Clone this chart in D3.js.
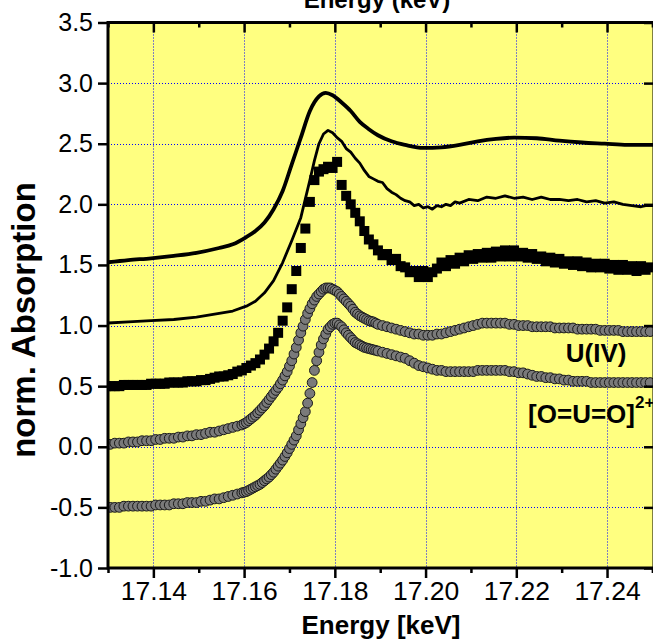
<!DOCTYPE html>
<html>
<head>
<meta charset="utf-8">
<script src="https://cdn.jsdelivr.net/npm/d3@7.9.0/dist/d3.min.js"></script>
<style>
  html, body { margin: 0; padding: 0; background: #fff; }
  svg { display: block; font-family: Arial, 'Liberation Sans', sans-serif; }
</style>
</head>
<body>
<svg id="chart" width="653" height="643"></svg>
<script>
// energies in eV, values are normalised absorption
const xMajorTicks = [17140, 17160, 17180, 17200, 17220, 17240];
const xMinorTicks = [17130, 17150, 17170, 17190, 17210, 17230, 17250];
const yTicks = [-1.0, -0.5, 0.0, 0.5, 1.0, 1.5, 2.0, 2.5, 3.0, 3.5];
const yGrid = [-0.5, 0.0, 0.5, 1.0, 1.5, 2.0, 2.5, 3.0];

// top solid curve
const line1Energy = [17129.5, 17134.5, 17139.5, 17144.5, 17149.5, 17154.5, 17157.5, 17160.5, 17162.5, 17164.5,
  17166.5, 17168.5, 17170.5, 17172.5, 17174.5, 17176.5, 17178, 17179.5, 17181.5, 17183.5,
  17185.5, 17187.5, 17189.5, 17192.5, 17195.5, 17199.5, 17203.5, 17207.5, 17211.5, 17215.5,
  17219.5, 17224.5, 17229.5, 17234.5, 17239.5, 17244.5, 17249.5, 17250.5];
const line1Value = [1.52, 1.54, 1.555, 1.575, 1.60, 1.64, 1.67, 1.73, 1.78, 1.85,
  1.96, 2.11, 2.33, 2.55, 2.77, 2.89, 2.92, 2.90, 2.84, 2.77,
  2.68, 2.62, 2.57, 2.52, 2.49, 2.465, 2.47, 2.49, 2.52, 2.54,
  2.55, 2.545, 2.525, 2.51, 2.50, 2.49, 2.49, 2.49];

// second solid (noisy) curve
const line2Energy = [17129.5, 17134.5, 17139.5, 17144.5, 17149.5, 17154.5, 17157.5, 17160.5, 17162.5, 17164.5,
  17166.5, 17168.5, 17170.5, 17172.5, 17174.5, 17175.5, 17176.5, 17177.5, 17178.5, 17179.5,
  17180.5, 17181.5, 17182.5, 17183.5, 17184.5, 17185.5, 17186.5, 17187.5, 17188.5, 17189.5,
  17190.5, 17191.5, 17192.5, 17193.5, 17194.5, 17195.5, 17196.5, 17197.5, 17198.5, 17199.5,
  17200.5, 17201.5, 17202.5, 17203.5, 17204.5, 17205.5, 17206.5, 17207.5,
  17209.5, 17211.5, 17213.5, 17215.5, 17217.5, 17219.5, 17221.5, 17223.5, 17225.5, 17227.5,
  17229.5, 17231.5, 17233.5, 17235.5, 17237.5, 17239.5, 17241.5, 17243.5, 17245.5, 17247.5,
  17248.5, 17249.5, 17250.5];
const line2Value = [1.02, 1.03, 1.04, 1.05, 1.07, 1.10, 1.12, 1.16, 1.20, 1.27,
  1.37, 1.52, 1.70, 1.89, 2.20, 2.36, 2.50, 2.58, 2.61, 2.59,
  2.55, 2.52, 2.46, 2.43, 2.38, 2.34, 2.28, 2.23, 2.21, 2.19,
  2.18, 2.13, 2.10, 2.08, 2.05, 2.03, 2.02, 1.99, 2.00, 1.97,
  1.98, 1.96, 1.99, 1.98, 2.00, 1.99, 2.02, 2.01,
  2.04, 2.03, 2.06, 2.05, 2.07, 2.05, 2.06, 2.04, 2.06, 2.04,
  2.04, 2.03, 2.04, 2.02, 2.03, 2.01, 2.02, 2.00, 1.99, 1.98,
  1.99, 1.99, 1.99];

// black squares
const squareEnergy = [17129.5, 17130.5, 17131.5, 17132.5, 17133.5, 17134.5, 17135.5, 17136.5, 17137.5, 17138.5,
  17139.5, 17140.5, 17141.5, 17142.5, 17143.5, 17144.5, 17145.5, 17146.5, 17147.5, 17148.5,
  17149.5, 17150.5, 17151.5, 17152.5, 17153.5, 17154.5, 17155.5, 17156.5, 17157.5, 17158.5,
  17159.5, 17160.5, 17161.5, 17162.5, 17163.5, 17164.5, 17165.5, 17166.5, 17167.5, 17168.5,
  17169.5, 17170.5, 17171.5, 17172.5, 17173.5, 17174.5, 17175.5, 17176.5, 17177.5, 17178.5,
  17179.5, 17180.5, 17181.5, 17182.5, 17183.5, 17184.5, 17185.5, 17186.5, 17187.5, 17188.5,
  17189.5, 17190.5, 17191.5, 17192.5, 17193.5, 17194.5, 17195.5, 17196.5, 17197.5, 17198.5,
  17199.5, 17200.5, 17201.5, 17202.5, 17203.5, 17204.5, 17205.5, 17206.5, 17207.5, 17208.5,
  17209.5, 17210.5, 17211.5, 17212.5, 17213.5, 17214.5, 17215.5, 17216.5, 17217.5, 17218.5,
  17219.5, 17220.5, 17221.5, 17222.5, 17223.5, 17224.5, 17225.5, 17226.5, 17227.5, 17228.5,
  17229.5, 17230.5, 17231.5, 17232.5, 17233.5, 17234.5, 17235.5, 17236.5, 17237.5, 17238.5,
  17239.5, 17240.5, 17241.5, 17242.5, 17243.5, 17244.5, 17245.5, 17246.5, 17247.5, 17248.5,
  17249.5];
const squareValue = [0.50, 0.50, 0.50, 0.50, 0.51, 0.51, 0.51, 0.51, 0.51, 0.51,
  0.52, 0.52, 0.52, 0.52, 0.53, 0.53, 0.53, 0.53, 0.54, 0.54,
  0.54, 0.55, 0.55, 0.56, 0.57, 0.58, 0.58, 0.59, 0.60, 0.62,
  0.63, 0.65, 0.67, 0.69, 0.72, 0.76, 0.81, 0.87, 0.94, 1.04,
  1.15, 1.30, 1.45, 1.64, 1.80, 2.02, 2.20, 2.27, 2.29, 2.31,
  2.30, 2.35, 2.16, 2.07, 2.00, 1.93, 1.86, 1.78, 1.71, 1.67,
  1.62, 1.58, 1.59, 1.54, 1.55, 1.49, 1.48, 1.44, 1.45, 1.40,
  1.45, 1.40, 1.44, 1.47, 1.52, 1.49, 1.54, 1.51, 1.56, 1.53,
  1.58, 1.55, 1.59, 1.56, 1.60, 1.56, 1.61, 1.57, 1.62, 1.57,
  1.62, 1.57, 1.60, 1.56, 1.59, 1.55, 1.57, 1.53, 1.56, 1.52,
  1.55, 1.51, 1.53, 1.50, 1.53, 1.49, 1.52, 1.48, 1.51, 1.48,
  1.51, 1.47, 1.50, 1.46, 1.50, 1.46, 1.49, 1.45, 1.49, 1.46,
  1.48];

// grey circles, shared energy grid (finer over the edge)
const circleEnergy = [17129.5, 17130.5, 17131.5, 17132.5, 17133.5, 17134.5, 17135.5, 17136.5, 17137.5, 17138.5,
  17139.5, 17140.5, 17141.5, 17142.5, 17143.5, 17144.5, 17145.5, 17146.5, 17147.5, 17148.5,
  17149.5, 17150.5, 17151.5, 17152.5, 17153.5, 17154.5, 17155.5, 17156.5, 17157.5, 17158.5,
  17159.5,
  17160, 17160.5, 17161, 17161.5, 17162, 17162.5, 17163, 17163.5, 17164, 17164.5,
  17165, 17165.5, 17166, 17166.5, 17167, 17167.5, 17168, 17168.5, 17169, 17169.5,
  17170, 17170.5, 17171, 17171.5, 17172, 17172.5, 17173, 17173.5, 17174, 17174.5,
  17175, 17175.5, 17176, 17176.5, 17177, 17177.5, 17178, 17178.5, 17179, 17179.5,
  17180, 17180.5, 17181, 17181.5, 17182, 17182.5, 17183, 17183.5, 17184, 17184.5,
  17185, 17185.5, 17186, 17186.5, 17187, 17187.5, 17188, 17188.5, 17189, 17189.5,
  17190.5, 17191.5, 17192.5, 17193.5, 17194.5, 17195.5, 17196.5, 17197.5, 17198.5, 17199.5,
  17200.5, 17201.5, 17202.5, 17203.5, 17204.5, 17205.5, 17206.5, 17207.5, 17208.5, 17209.5,
  17210.5, 17211.5, 17212.5, 17213.5, 17214.5, 17215.5, 17216.5, 17217.5, 17218.5, 17219.5,
  17220.5, 17221.5, 17222.5, 17223.5, 17224.5, 17225.5, 17226.5, 17227.5, 17228.5, 17229.5,
  17230.5, 17231.5, 17232.5, 17233.5, 17234.5, 17235.5, 17236.5, 17237.5, 17238.5, 17239.5,
  17240.5, 17241.5, 17242.5, 17243.5, 17244.5, 17245.5, 17246.5, 17247.5, 17248.5, 17249.5];

const uIVValue = [0.02, 0.02, 0.03, 0.03, 0.03, 0.04, 0.04, 0.04, 0.05, 0.05,
  0.05, 0.06, 0.06, 0.07, 0.07, 0.07, 0.08, 0.08, 0.09, 0.09,
  0.10, 0.10, 0.11, 0.12, 0.12, 0.13, 0.14, 0.15, 0.16, 0.17,
  0.18,
  0.19, 0.20, 0.215, 0.23, 0.245, 0.26, 0.28, 0.30, 0.32, 0.34,
  0.365, 0.39, 0.415, 0.44, 0.465, 0.49, 0.52, 0.55, 0.585, 0.62,
  0.665, 0.71, 0.765, 0.82, 0.88, 0.94, 0.995, 1.05, 1.10, 1.14,
  1.18, 1.21, 1.24, 1.26, 1.28, 1.30, 1.31, 1.31, 1.31, 1.30,
  1.29, 1.28, 1.26, 1.24, 1.22, 1.20, 1.18, 1.16, 1.135, 1.11,
  1.095, 1.08, 1.07, 1.06, 1.05, 1.04, 1.035, 1.03, 1.02, 1.01,
  1.00, 0.99, 0.98, 0.97, 0.96, 0.95, 0.94, 0.93, 0.93, 0.92,
  0.92, 0.92, 0.93, 0.93, 0.94, 0.95, 0.96, 0.97, 0.98, 0.99,
  1.00, 1.01, 1.02, 1.02, 1.02, 1.02, 1.02, 1.02, 1.01, 1.01,
  1.00, 1.00, 1.00, 0.99, 0.99, 0.99, 0.99, 0.99, 0.98, 0.98,
  0.98, 0.98, 0.98, 0.97, 0.97, 0.97, 0.97, 0.97, 0.96, 0.96,
  0.96, 0.96, 0.96, 0.95, 0.95, 0.95, 0.95, 0.95, 0.95, 0.95];

const uranylValue = [-0.50, -0.50, -0.50, -0.50, -0.49, -0.49, -0.49, -0.49, -0.49, -0.49,
  -0.49, -0.48, -0.48, -0.48, -0.48, -0.47, -0.47, -0.47, -0.46, -0.46,
  -0.46, -0.45, -0.45, -0.44, -0.43, -0.43, -0.42, -0.41, -0.40, -0.39,
  -0.38,
  -0.375, -0.37, -0.36, -0.35, -0.34, -0.33, -0.32, -0.31, -0.295, -0.28,
  -0.265, -0.25, -0.23, -0.21, -0.185, -0.16, -0.135, -0.11, -0.08, -0.05,
  -0.015, 0.02, 0.055, 0.09, 0.14, 0.19, 0.24, 0.29, 0.36, 0.44,
  0.53, 0.63, 0.71, 0.78, 0.84, 0.89, 0.93, 0.97, 0.99, 1.01,
  1.02, 1.02, 1.005, 0.99, 0.965, 0.94, 0.92, 0.90, 0.88, 0.86,
  0.85, 0.84, 0.83, 0.82, 0.815, 0.81, 0.805, 0.80, 0.795, 0.79,
  0.78, 0.77, 0.76, 0.75, 0.74, 0.73, 0.71, 0.69, 0.67, 0.66,
  0.65, 0.64, 0.63, 0.63, 0.62, 0.62, 0.62, 0.62, 0.62, 0.62,
  0.62, 0.63, 0.63, 0.63, 0.63, 0.63, 0.63, 0.63, 0.62, 0.62,
  0.61, 0.61, 0.60, 0.59, 0.58, 0.58, 0.57, 0.57, 0.56, 0.56,
  0.55, 0.55, 0.54, 0.54, 0.54, 0.54, 0.53, 0.53, 0.53, 0.53,
  0.53, 0.53, 0.53, 0.53, 0.53, 0.53, 0.53, 0.53, 0.53, 0.53];

const annotations = [
  { energy: 17230.9, value: 0.70, text: 'U(IV)', sup: '' },
  { energy: 17222.6, value: 0.20, text: '[O=U=O]', sup: '2+' },
];

const plot = { left: 108, right: 652.4, top: 22.5, bottom: 568 };
const frameRight = 654;

const svg = d3.select('#chart');

const xScale = d3.scaleLinear().domain([17130, 17250]).range([plot.left, plot.right]);
const yScale = d3.scaleLinear().domain([-1.0, 3.5]).range([plot.bottom, plot.top]);

function zip(xs, ys) {
  return xs.map((x, i) => ({ x, y: ys[i] }));
}

function renderBackground() {
  svg.append('rect')
    .attr('x', plot.left).attr('y', plot.top)
    .attr('width', frameRight - plot.left).attr('height', plot.bottom - plot.top)
    .attr('fill', '#ffff80');

  svg.append('defs').append('clipPath').attr('id', 'plot-clip')
    .append('rect')
    .attr('x', plot.left).attr('y', plot.top)
    .attr('width', frameRight - plot.left).attr('height', plot.bottom - plot.top);
}

function renderGrid() {
  const g = svg.append('g').attr('class', 'grid')
    .attr('stroke', '#0000ff').attr('stroke-width', 1).attr('stroke-dasharray', '1,2');
  g.selectAll('line.gx').data(xMajorTicks).join('line')
    .attr('class', 'gx')
    .attr('x1', (d) => Math.round(xScale(d)) + 0.5).attr('x2', (d) => Math.round(xScale(d)) + 0.5)
    .attr('y1', plot.top).attr('y2', plot.bottom);
  g.selectAll('line.gy').data(yGrid).join('line')
    .attr('class', 'gy')
    .attr('y1', (d) => Math.round(yScale(d)) + 0.5).attr('y2', (d) => Math.round(yScale(d)) + 0.5)
    .attr('x1', plot.left).attr('x2', frameRight);
}

function renderSeries() {
  const g = svg.append('g').attr('clip-path', 'url(#plot-clip)');

  const line = d3.line().x((d) => xScale(d.x)).y((d) => yScale(d.y));

  g.append('path')
    .datum(zip(line1Energy, line1Value))
    .attr('fill', 'none').attr('stroke', '#000').attr('stroke-width', 3.8)
    .attr('stroke-linejoin', 'round')
    .attr('d', line.curve(d3.curveMonotoneX));

  g.append('path')
    .datum(zip(line2Energy, line2Value))
    .attr('fill', 'none').attr('stroke', '#000').attr('stroke-width', 2.8)
    .attr('stroke-linejoin', 'round')
    .attr('d', line.curve(d3.curveLinear));

  const sq = 10;
  g.append('g').selectAll('rect')
    .data(zip(squareEnergy, squareValue))
    .join('rect')
    .attr('x', (d) => xScale(d.x) - sq / 2)
    .attr('y', (d) => yScale(d.y) - sq / 2)
    .attr('width', sq).attr('height', sq)
    .attr('fill', '#000');

  [uIVValue, uranylValue].forEach((values) => {
    g.append('g').selectAll('circle')
      .data(zip(circleEnergy, values))
      .join('circle')
      .attr('cx', (d) => xScale(d.x))
      .attr('cy', (d) => yScale(d.y))
      .attr('r', 4.9)
      .attr('fill', '#7a7a7a')
      .attr('stroke', '#1a1a1a')
      .attr('stroke-width', 1);
  });
}

function styleAxis(sel, size) {
  sel.select('.domain').remove();
  sel.selectAll('.tick line').attr('stroke', '#000').attr('stroke-width', 2.5);
  sel.selectAll('.tick text').attr('fill', '#000').attr('font-size', size || '25px');
}

function renderAxes() {
  svg.append('g')
    .attr('transform', `translate(0, ${plot.bottom})`)
    .call(d3.axisBottom(xScale).tickValues(xMajorTicks).tickSize(10).tickPadding(3)
      .tickFormat((d) => (d / 1000).toFixed(2)))
    .call(styleAxis, '26.5px');
  svg.append('g')
    .attr('transform', `translate(0, ${plot.bottom})`)
    .call(d3.axisBottom(xScale).tickValues(xMinorTicks).tickSize(5).tickFormat(''))
    .call(styleAxis);

  svg.append('g')
    .attr('transform', `translate(0, ${plot.top})`)
    .call(d3.axisTop(xScale).tickValues(xMajorTicks).tickSize(-10).tickFormat(''))
    .call(styleAxis);
  svg.append('g')
    .attr('transform', `translate(0, ${plot.top})`)
    .call(d3.axisTop(xScale).tickValues(xMinorTicks).tickSize(-5).tickFormat(''))
    .call(styleAxis);

  svg.append('g')
    .attr('transform', `translate(${plot.left}, 0)`)
    .call(d3.axisLeft(yScale).tickValues(yTicks).tickSize(10).tickPadding(5)
      .tickFormat((d) => d.toFixed(1)))
    .call(styleAxis, '25px');

  svg.append('g')
    .attr('transform', `translate(${frameRight}, 0)`)
    .call(d3.axisRight(yScale).tickValues(yTicks).tickSize(-10).tickFormat(''))
    .call(styleAxis);

  svg.append('rect')
    .attr('x', plot.left).attr('y', plot.top)
    .attr('width', frameRight - plot.left).attr('height', plot.bottom - plot.top)
    .attr('fill', 'none').attr('stroke', '#000').attr('stroke-width', 3);
}

function renderLabels() {
  svg.append('text')
    .attr('x', 381).attr('y', 634)
    .attr('text-anchor', 'middle')
    .attr('font-size', '26px').attr('font-weight', 700)
    .text('Energy [keV]');

  // title sits mostly above the picture, as in the original export
  svg.append('text')
    .attr('x', 377).attr('y', 8)
    .attr('text-anchor', 'middle')
    .attr('font-size', '24px').attr('font-weight', 700)
    .text('Energy (keV)');

  svg.append('text')
    .attr('transform', 'translate(35, 320) rotate(-90)')
    .attr('text-anchor', 'middle')
    .attr('font-size', '33px').attr('font-weight', 700)
    .text('norm. Absorption');

  annotations.forEach((a) => {
    const t = svg.append('text')
      .attr('x', xScale(a.energy)).attr('y', yScale(a.value))
      .attr('font-size', '26px').attr('font-weight', 700)
      .text(a.text);
    if (a.sup) {
      t.append('tspan').attr('dy', -15).attr('font-size', '17px').text(a.sup);
    }
  });
}

renderBackground();
renderGrid();
renderSeries();
renderAxes();
renderLabels();
</script>
</body>
</html>
